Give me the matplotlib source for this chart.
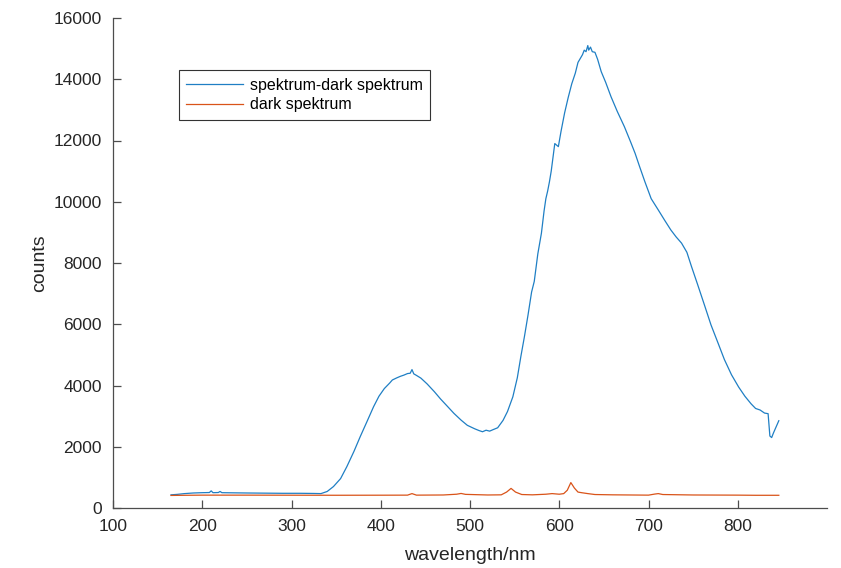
import numpy as np
import matplotlib
matplotlib.use('Agg')
import matplotlib.pyplot as plt

# ── DATA ──────────────────────────────────────────────────────
wl_signal = [165, 172, 180, 190, 200, 208, 210, 212, 218, 220, 222, 235, 250,
             270, 290, 310, 325, 333, 340, 347, 355, 362, 370, 377, 385, 392,
             398, 404, 410, 413, 418, 422, 426, 430, 433, 435, 437, 440, 445,
             452, 460, 467, 475, 482, 490, 497, 505, 510, 514, 518, 522, 526,
             531, 537, 542, 548, 553, 557, 561, 565, 569, 572, 576, 580, 583,
             585, 587, 589, 591, 595, 599, 602, 606, 610, 614, 618, 621, 624,
             626, 628, 630, 632, 633, 635, 637, 640, 643, 647, 652, 658, 665,
             673, 680, 685, 690, 696, 703, 711, 718, 725, 731, 737, 743, 748,
             755, 763, 770, 778, 785, 793, 801, 808, 815, 820, 825, 830, 834,
             836, 838, 840, 843, 846]
counts_signal = [430, 445, 470, 490, 500, 505, 560, 500, 505, 540, 500, 495, 490,
                 485, 480, 480, 475, 470, 540, 700, 960, 1350, 1850, 2330, 2850, 3310,
                 3650, 3900, 4080, 4180, 4250, 4300, 4340, 4390, 4400, 4520, 4380, 4330, 4240,
                 4050, 3800, 3560, 3310, 3090, 2870, 2700, 2590, 2530, 2490, 2540, 2510, 2560,
                 2620, 2860, 3150, 3630, 4250, 4950, 5600, 6300, 7050, 7400, 8300, 8970, 9700,
                 10100, 10350, 10650, 11000, 11900, 11800, 12300, 12900, 13400, 13850, 14200, 14550, 14700,
                 14800, 14950, 14900, 15100, 14950, 15050, 14900, 14880, 14650, 14250, 13900, 13430, 12950,
                 12450, 11950, 11580, 11150, 10650, 10100, 9730, 9400, 9080, 8850, 8650, 8350, 7900,
                 7300, 6600, 5980, 5380, 4850, 4350, 3950, 3650, 3400, 3250, 3200, 3100, 3080,
                 2350, 2300, 2450, 2650, 2850]

wl_dark = [165, 180, 200, 250, 300, 350, 400, 430, 435, 440, 470, 485, 490, 495,
           520, 535, 541, 546, 551, 558, 570, 585, 592, 600, 605, 609, 613, 617,
           621, 625, 632, 640, 660, 700, 707, 711, 716, 750, 800, 820, 846]
counts_dark = [410, 415, 420, 420, 418, 416, 418, 420, 470, 420, 425, 450, 475, 445,
               425, 430, 520, 640, 520, 440, 430, 450, 470, 450, 470, 580, 830, 650,
               520, 500, 470, 440, 430, 420, 455, 470, 440, 425, 420, 415, 415]

# ── PLOT ──────────────────────────────────────────────────────
plt.rcParams['font.family'] = ['Liberation Sans', 'DejaVu Sans']
axis_color = '#4d4d4d'

fig = plt.figure(figsize=(8.41, 5.68), dpi=100)
ax = fig.add_axes([113 / 841, 1 - 508 / 568, 714 / 841, 490 / 568])

ax.plot(wl_signal, counts_signal, color='#1f7fc4', linewidth=0.9,
        label='spektrum-dark spektrum')
ax.plot(wl_dark, counts_dark, color='#D95319', linewidth=0.9,
        label='dark spektrum')

ax.set_xlim(100, 900)
ax.set_ylim(0, 16000)
ax.set_xticks(range(100, 900, 100))
ax.set_yticks(range(0, 16001, 2000))

for side in ['top', 'right']:
    ax.spines[side].set_visible(False)
for side in ['left', 'bottom']:
    ax.spines[side].set_color(axis_color)
    ax.spines[side].set_linewidth(0.9)

ax.tick_params(direction='in', length=6, width=0.9, color=axis_color,
               labelsize=12.5, labelcolor='#262626')
ax.tick_params(axis='x', pad=8)
ax.tick_params(axis='y', pad=8)

ax.set_xlabel('wavelength/nm', fontsize=14, color='#262626', labelpad=9)
ax.set_ylabel('counts', fontsize=14, color='#262626', labelpad=4)

leg = ax.legend(loc='upper left', bbox_to_anchor=(0.092, 0.893), fontsize=11.5,
                frameon=True, fancybox=False, framealpha=1, handlelength=3.6,
                handletextpad=0.4, borderpad=0.45, labelspacing=0.3,
                borderaxespad=0)
leg.get_frame().set_edgecolor('#333333')
leg.get_frame().set_linewidth(0.8)

plt.savefig('out.png', dpi=100)
